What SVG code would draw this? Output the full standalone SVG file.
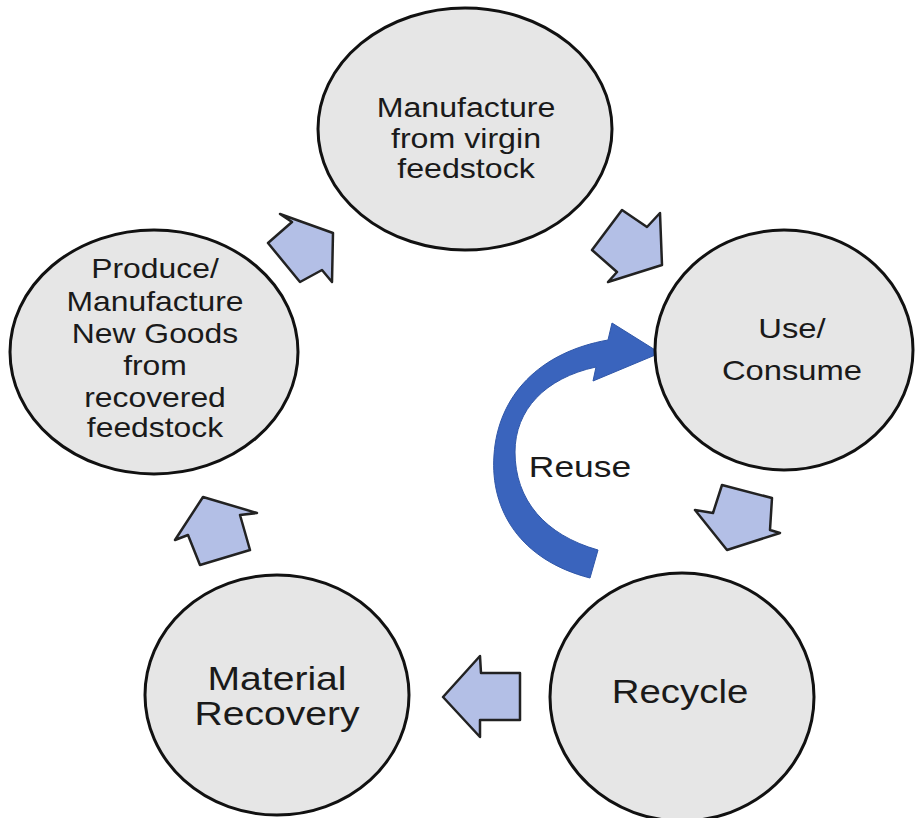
<svg xmlns="http://www.w3.org/2000/svg" width="915" height="818" viewBox="0 0 915 818">
<style>
.node{fill:#e6e6e6;stroke:#111;stroke-width:3}
.blk{fill:#b3bfe6;stroke:#222;stroke-width:2.5;stroke-linejoin:round}
.t{font-family:"Liberation Sans",Arial,sans-serif;fill:#1a1a1a;text-anchor:middle}
</style>
<rect width="915" height="818" fill="#ffffff"/>
<g id="connectors">
<polygon class="blk" points="280,214 292,222 268,243 300,282 322,270 332,282 333,233"/>
<polygon class="blk" points="622,210 647,227 660,213 662,265 608,282 617,272 592,250"/>
<polygon class="blk" points="722,485 772,498 770,530 780,533 727,550 695,510 713,513"/>
<polygon class="blk" points="443,697 480,656 481,673 520,673 520,720 480,720 480,737"/>
<polygon class="blk" points="257,513 203,497 175,540 188,535 200,565 250,550 240,515"/>
<path id="reuse-arrow" d="M590,578 C520,560 490,510 494,455 C498,395 540,352 608,340 L612,323 L660,353 L593,381 L596,367 C545,378 515,410 515,452 C515,500 545,535 598,550 Z" fill="#3a64bd" stroke="#2f56a8" stroke-width="1"/>
</g>
<g id="node-manufacture">
<ellipse class="node" cx="465" cy="129" rx="147" ry="121"/>
<g class="t" font-size="27.5">
<text transform="translate(466,117) scale(1.17,1)">Manufacture</text>
<text transform="translate(466,148) scale(1.17,1)">from virgin</text>
<text transform="translate(466,178) scale(1.17,1)">feedstock</text>
</g>
</g>
<g id="node-use">
<ellipse class="node" cx="784" cy="350" rx="129" ry="120"/>
<g class="t" font-size="28">
<text transform="translate(792,338) scale(1.17,1)">Use/</text>
<text transform="translate(792,380) scale(1.17,1)">Consume</text>
</g>
</g>
<g id="node-recycle">
<ellipse class="node" cx="682" cy="697" rx="132" ry="124"/>
<text class="t" font-size="34" transform="translate(680,703) scale(1.13,1)">Recycle</text>
</g>
<g id="node-recovery">
<ellipse class="node" cx="277" cy="695" rx="132" ry="120"/>
<g class="t" font-size="34">
<text transform="translate(277,690) scale(1.15,1)">Material</text>
<text transform="translate(277,725) scale(1.15,1)">Recovery</text>
</g>
</g>
<g id="node-produce">
<ellipse class="node" cx="154" cy="352" rx="144" ry="122"/>
<g class="t" font-size="27">
<text transform="translate(155,278) scale(1.18,1)">Produce/</text>
<text transform="translate(155,311) scale(1.18,1)">Manufacture</text>
<text transform="translate(155,343) scale(1.18,1)">New Goods</text>
<text transform="translate(155,375) scale(1.18,1)">from</text>
<text transform="translate(155,407) scale(1.18,1)">recovered</text>
<text transform="translate(155,437) scale(1.18,1)">feedstock</text>
</g>
</g>
<g id="label-reuse">
<text class="t" font-size="30" transform="translate(580,477) scale(1.18,1)">Reuse</text>
</g>
</svg>
